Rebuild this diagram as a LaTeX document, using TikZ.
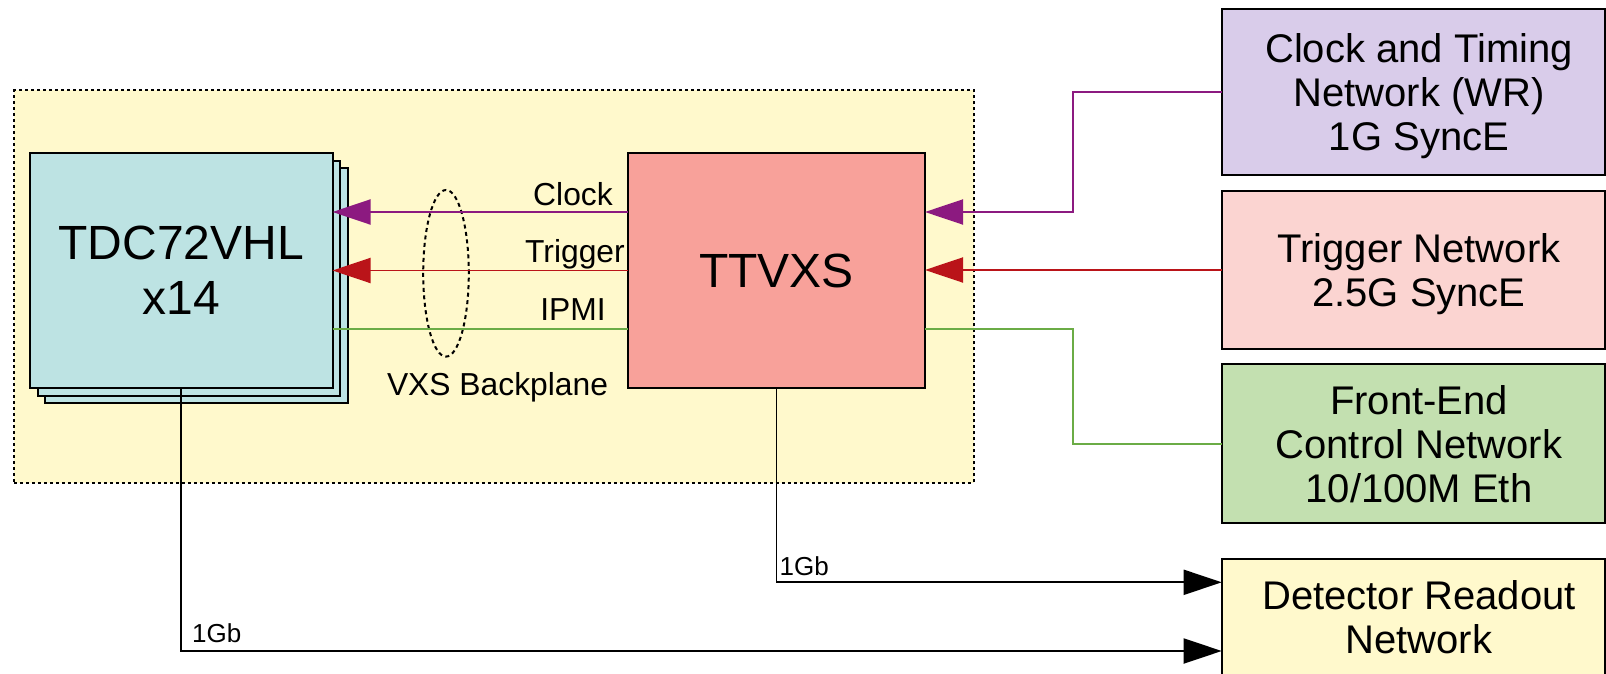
\documentclass[tikz,border=0pt]{standalone}
\usepackage{fontspec}
\setmainfont{Liberation Sans}
\usetikzlibrary{arrows.meta,shapes.geometric}

\definecolor{crateyellow}{HTML}{FFF9CC}
\definecolor{tdccyan}{HTML}{BDE3E3}
\definecolor{ttvxsred}{HTML}{F8A19A}
\definecolor{clklilac}{HTML}{D9CCEA}
\definecolor{trgpink}{HTML}{FBD4D1}
\definecolor{fegreen}{HTML}{C3E0B0}
\definecolor{clkwire}{HTML}{8C1A80}
\definecolor{trgwire}{HTML}{BA1419}
\definecolor{ipmiwire}{HTML}{6BAC46}

\begin{document}
\begin{tikzpicture}[x=1pt,y=-1pt,
  block/.style={draw=black, line width=2pt, inner sep=0pt, outer sep=0pt,
                align=center, text depth=0pt},
  netbox/.style={block, minimum width=383.3pt, anchor=north west},
  nettext/.style={align=center, text depth=0pt, inner sep=0pt,
                  font=\fontsize{40}{44.2}\selectfont},
  bigtext/.style={font=\fontsize{48}{55}\selectfont},
  wire/.style={line width=1.9pt},
  arrowend/.style={-{Triangle[length=38pt,width=25pt]}},
  lbl/.style={inner sep=0pt, anchor=base, font=\fontsize{31.8}{36}\selectfont},
  ratelbl/.style={inner sep=0pt, anchor=base west, font=\fontsize{26}{30}\selectfont},
]
\useasboundingbox (0,0) rectangle (1606,674);

% VXS crate outline
\node[draw=black, line width=2pt, dash pattern=on 3pt off 3pt, fill=crateyellow,
      inner sep=0pt, outer sep=0pt, minimum width=959.7pt, minimum height=392pt,
      anchor=north west] (crate) at (14.3,90.5) {};

% stack of TDC boards
\node[block, fill=tdccyan, minimum width=302.5pt, minimum height=235pt,
      anchor=north west] (tdc3) at (45,168) {};
\node[block, fill=tdccyan, minimum width=302.5pt, minimum height=235pt,
      anchor=north west] (tdc2) at (37.5,160.5) {};
\node[block, bigtext, fill=tdccyan, minimum width=302.5pt, minimum height=235pt,
      anchor=north west] (tdc) at (30,153) {TDC72VHL\\x14};

% timing and trigger switch board
\node[block, bigtext, fill=ttvxsred, minimum width=297pt, minimum height=235pt,
      anchor=north west] (ttvxs) at (628,153) {TTVXS};

% external networks
\node[netbox, fill=clklilac, minimum height=165.7pt] (clk) at (1221.7,9.3) {};
\node[netbox, fill=trgpink, minimum height=158.8pt] (trg) at (1221.7,190.6) {};
\node[netbox, fill=fegreen, minimum height=159pt] (fe) at (1221.7,364.3) {};
\node[netbox, fill=crateyellow, minimum height=116pt] (det) at (1221.7,559.2) {};

\node[nettext] (clk-t) at ([xshift=5.6pt]clk.center) {Clock and Timing\\Network (WR)\\1G SyncE};
\node[nettext] (trg-t) at ([xshift=5.6pt]trg.center) {Trigger Network\\2.5G SyncE};
\node[nettext] (fe-t) at ([xshift=5.6pt]fe.center) {Front-End\\Control Network\\10/100M Eth};
\node[nettext] (det-t) at ([xshift=5.6pt]det.center) {Detector Readout\\Network};

% backplane marker
\node[ellipse, draw=black, line width=2pt, dash pattern=on 4pt off 3.5pt,
      minimum width=45.6pt, minimum height=166.6pt, inner sep=0pt] (vxs) at (446,273.3) {};

% signal rows and routing column
\coordinate (yclk) at (0,212);
\coordinate (ytrg) at (0,270.5);
\coordinate (yipmi) at (0,329);
\coordinate (bus) at (1073,0);
\coordinate (yro1) at (0,582.3);
\coordinate (yro2) at (0,651);

% clock
\draw[wire, clkwire, arrowend] (clk.west) -- (bus |- clk.west) |- (ttvxs.east |- yclk);
\draw[wire, clkwire, arrowend] (ttvxs.west |- yclk) -- (tdc.east |- yclk);
% trigger
\draw[wire, trgwire, arrowend] (trg.west) -- (ttvxs.east |- trg.west);
\draw[wire, trgwire, arrowend] (ttvxs.west |- ytrg) -- (tdc.east |- ytrg);
% slow control
\draw[wire, ipmiwire] (tdc.east |- yipmi) -- (ttvxs.west |- yipmi);
\draw[wire, ipmiwire] (ttvxs.east |- yipmi) -- (bus |- yipmi) |- (fe.west);
% readout links
\draw[wire, arrowend] (ttvxs.south) |- (det.west |- yro1);
\draw[wire, arrowend] (tdc.south) |- (det.west |- yro2);

% labels
\node[lbl] (l-clk) at (573,205) {Clock};
\node[lbl] (l-trg) at (575,262.7) {Trigger};
\node[lbl] (l-ipmi) at (573,320) {IPMI};
\node[lbl] (l-vxs) at (497.5,395) {VXS Backplane};
\node[ratelbl] (r-ttvxs) at (779.5,575) {1Gb};
\node[ratelbl] (r-tdc) at (192,642.7) {1Gb};
\end{tikzpicture}
\end{document}
